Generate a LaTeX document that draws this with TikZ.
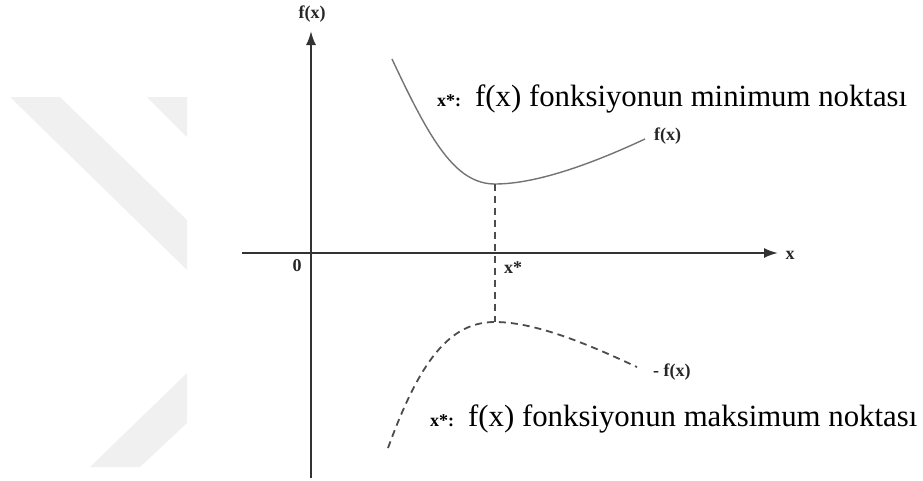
\documentclass[tikz,border=0pt]{standalone}
\usepackage{fontspec}
\setmainfont{Liberation Serif}
\usetikzlibrary{arrows.meta}

\begin{document}
\begin{tikzpicture}[
      x=1pt, y=-1pt,
      axis/.style={draw=black!80, line width=2pt, -{Latex[length=14pt, width=10pt]}},
      curve/.style={draw=black!55, line width=1.4pt},
      dcurve/.style={draw=black!70, line width=1.8pt, dash pattern=on 7pt off 5pt},
      tag/.style={font=\fontsize{18}{21}\selectfont\bfseries, inner sep=0pt, text=black!85},
      big/.style={font=\fontsize{30.8}{36}\selectfont, inner sep=0pt, anchor=base west},
      wmark/.style={fill=black!6, draw=none}
    ]
    \useasboundingbox (0,0) rectangle (923,480);
    % Watermark
    \fill[wmark] (10,97) -- (60,97) -- (187,220) -- (187,270) -- cycle;
    \fill[wmark] (147,97) -- (187,97) -- (187,137) -- cycle;
    \fill[wmark] (187,373) -- (187,423) -- (140,467) -- (90,467) -- cycle;

    % Axes
    \coordinate (ybot) at (311,478);
    \coordinate (ytop) at (311,31);
    \coordinate (xleft) at (242,253);
    \coordinate (xright) at (778,253);
    \draw[axis] (ybot) -- (ytop);
    \draw[axis] (xleft) -- (xright);

    % Points
    \coordinate (fstart) at (392,59);
    \coordinate (fmin) at (495,184);
    \coordinate (fend) at (645,139);
    \coordinate (gstart) at (388,448);
    \coordinate (gmax) at (495,322);
    \coordinate (gend) at (637,367);

    % Curves
    \draw[curve] (fstart) .. controls (430,140) and (455,184) .. (fmin)
                 .. controls (540,184) and (600,160) .. (fend);
    \draw[dcurve] (gstart) .. controls (420,360) and (450,322) .. (gmax)
                  .. controls (540,322) and (600,350) .. (gend);
    \draw[dcurve] (fmin) -- (gmax);

    % Labels
    \node[tag] (ylab) at (312,14) {f(x)};
    \node[tag] (xlab) at (790,255) {x};
    \node[tag] (zero) at (297,266) {0};
    \node[tag] (xstar) at (513,268) {x*};
    \node[tag, anchor=west] (flab) at (654,136) {f(x)};
    \node[tag, anchor=west] (mflab) at (653,372) {- f(x)};
    \node[big] (mintext) at (437,106) {{\fontsize{18}{21}\selectfont\bfseries x*:}\hspace{14pt}f(x) fonksiyonun minimum noktası};
    \node[big] (maxtext) at (430,426) {{\fontsize{18}{21}\selectfont\bfseries x*:}\hspace{14pt}f(x) fonksiyonun maksimum noktası};
  \end{tikzpicture}
\end{document}
